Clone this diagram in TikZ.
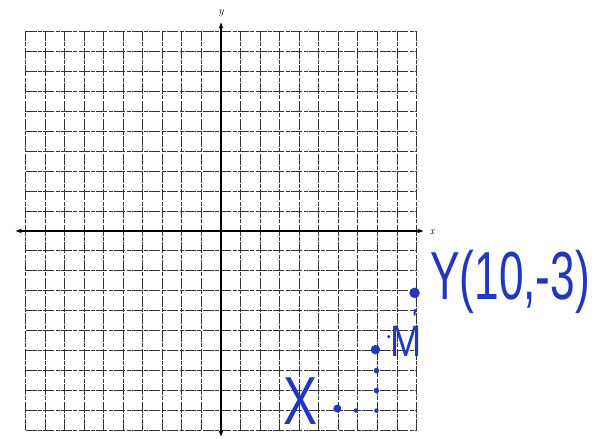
\documentclass[tikz,border=0pt]{standalone}
\usepackage{fontspec}
\newfontfamily\handfont{Liberation Sans}
\usetikzlibrary{arrows.meta}
\definecolor{ink}{RGB}{35,55,190}
\begin{document}
\begin{tikzpicture}[x=1pt,y=1pt,
  gridline/.style={line width=0.9pt, black!80, dash pattern=on 11pt off 1.5pt on 4pt off 1.2pt},
  axisline/.style={line width=1.3pt, black, {Stealth[length=6pt,width=4.5pt]}-{Stealth[length=6pt,width=4.5pt]}},
  bigdot/.style={circle, fill=ink, inner sep=0pt, minimum size=10.5pt},
  smalldot/.style={circle, fill=ink, inner sep=0pt, minimum size=5.5pt},
  hand/.style={text=ink, inner sep=0pt},
  axlabel/.style={font=\fontsize{11}{11}\selectfont\itshape, inner sep=0pt}]
\useasboundingbox (0,0) rectangle (605,439);
\fill[white] (0,0) rectangle (605,439);
\begin{scope}[shift={(221,208)}, x=19.55pt, y=19.95pt]
  \foreach \i in {-10,...,10} {
    \draw[gridline] (\i,-10) -- (\i,10);
    \draw[gridline] (-10,\i) -- (10,\i);
  }
  \coordinate (xl) at (-10.5,0);
  \coordinate (xr) at (10.35,0);
  \coordinate (yb) at (0,-10.3);
  \coordinate (yt) at (0,10.45);
  \draw[axisline] (xl) -- (xr);
  \draw[axisline] (yb) -- (yt);
  \node[axlabel] (xname) at (10.8,-0.05) {x};
  \node[axlabel] (yname) at (0,10.9) {y};
  % points
  \node[bigdot] (Y) at (9.9,-3.1) {};
  \node[bigdot, minimum size=9.5pt] (M) at (7.9,-5.95) {};
  \node[bigdot, minimum size=8pt] (X) at (5.95,-8.9) {};
  \node[smalldot, minimum size=4.5pt] (p1) at (6.9,-9) {};
  \node[smalldot] (p2) at (7.95,-7) {};
  \node[smalldot] (p3) at (7.95,-8) {};
  \node[smalldot, minimum size=4.5pt] (p4) at (7.95,-9) {};
  \node[smalldot, minimum size=3.5pt] (md) at (8.58,-5.3) {};
  \coordinate (t1) at (9.92,-3.95);
  \coordinate (t2) at (9.9,-4.2);
  \draw[ink, line width=2pt, line cap=round] (t1) -- (t2);
  % handwriting
  \node[hand, anchor=base west, font=\handfont\fontsize{68}{68}\selectfont, xscale=0.65] (ylab) at (10.7,-3.45) {Y(10,-3)};
  \node[hand, anchor=base west, font=\handfont\fontsize{44}{44}\selectfont, xscale=0.85] (mlab) at (8.64,-6.27) {M};
  \node[hand, anchor=base west, font=\handfont\fontsize{68}{68}\selectfont, xscale=0.75] (xlab) at (3.17,-9.72) {X};
\end{scope}
\end{tikzpicture}
\end{document}
